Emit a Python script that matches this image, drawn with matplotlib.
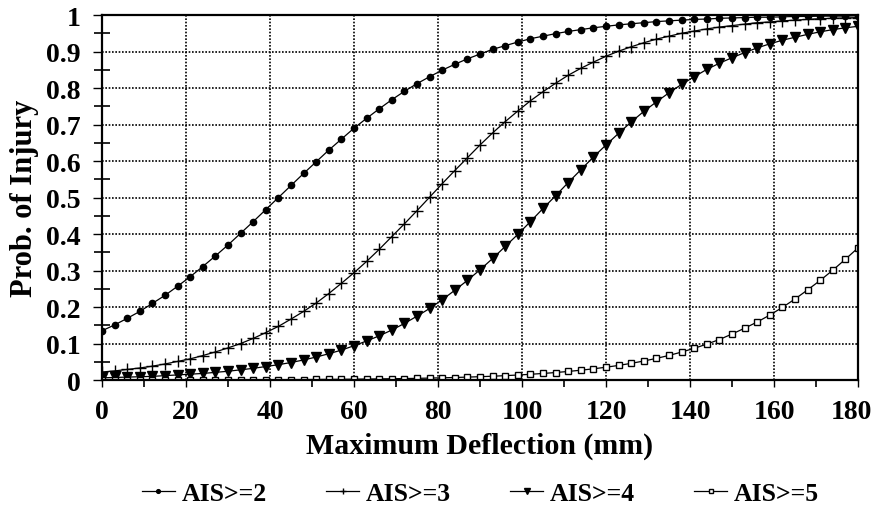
import numpy as np
import matplotlib.pyplot as plt
import matplotlib.transforms as mtransforms
from matplotlib.ticker import MultipleLocator, FuncFormatter

# ============================================================
# DATA (one value every 3 mm)
# ============================================================
deflection = list(range(0, 181, 3))

ais2 = [0.135, 0.151, 0.169, 0.188, 0.210, 0.232, 0.257, 0.283, 0.311, 0.340,
        0.370, 0.402, 0.434, 0.467, 0.500, 0.533, 0.566, 0.598, 0.630, 0.660,
        0.690, 0.717, 0.743, 0.768, 0.791, 0.812, 0.831, 0.849, 0.865, 0.880,
        0.893, 0.906, 0.916, 0.926, 0.935, 0.942, 0.949, 0.955, 0.960, 0.965,
        0.969, 0.973, 0.976, 0.979, 0.982, 0.984, 0.986, 0.988, 0.989, 0.991,
        0.992, 0.993, 0.994, 0.994, 0.995, 0.996, 0.996, 0.997, 0.997, 0.997,
        0.998]

ais3 = [0.022, 0.025, 0.029, 0.033, 0.038, 0.044, 0.051, 0.058, 0.067, 0.077,
        0.088, 0.100, 0.114, 0.130, 0.147, 0.167, 0.188, 0.211, 0.237, 0.265,
        0.294, 0.325, 0.358, 0.393, 0.428, 0.464, 0.501, 0.538, 0.574, 0.609,
        0.644, 0.677, 0.708, 0.737, 0.765, 0.790, 0.813, 0.835, 0.854, 0.871,
        0.887, 0.901, 0.913, 0.924, 0.934, 0.942, 0.950, 0.956, 0.962, 0.967,
        0.971, 0.975, 0.979, 0.981, 0.984, 0.986, 0.988, 0.990, 0.991, 0.992,
        0.993]

ais4 = [0.006, 0.007, 0.008, 0.009, 0.010, 0.012, 0.014, 0.016, 0.018, 0.021,
        0.024, 0.028, 0.032, 0.037, 0.042, 0.048, 0.055, 0.063, 0.072, 0.082,
        0.094, 0.107, 0.121, 0.137, 0.155, 0.175, 0.196, 0.220, 0.246, 0.273,
        0.302, 0.333, 0.366, 0.399, 0.434, 0.470, 0.505, 0.541, 0.576, 0.611,
        0.644, 0.676, 0.707, 0.736, 0.762, 0.787, 0.810, 0.831, 0.851, 0.868,
        0.883, 0.897, 0.910, 0.921, 0.931, 0.939, 0.947, 0.954, 0.960, 0.965,
        0.969]

ais5 = [0.0002, 0.0002, 0.0002, 0.0002, 0.0003, 0.0003, 0.0003, 0.0004, 0.0005, 0.0005,
        0.0006, 0.0007, 0.0008, 0.0009, 0.0010, 0.0012, 0.0013, 0.0015, 0.0018, 0.0020,
        0.0023, 0.0027, 0.0031, 0.0035, 0.0040, 0.0046, 0.0053, 0.0061, 0.0069, 0.0080,
        0.0091, 0.0104, 0.0120, 0.0137, 0.0157, 0.0180, 0.0205, 0.0235, 0.0269, 0.0307,
        0.0351, 0.0400, 0.0457, 0.0521, 0.0593, 0.0674, 0.0766, 0.0869, 0.0984, 0.111,
        0.126, 0.142, 0.159, 0.178, 0.199, 0.222, 0.247, 0.273, 0.301, 0.331,
        0.362]

series_labels = ["AIS>=2", "AIS>=3", "AIS>=4", "AIS>=5"]
x_ticks = [0, 20, 40, 60, 80, 100, 120, 140, 160, 180]

# ============================================================
# PLOT
# ============================================================
plt.rcParams['font.family'] = ['Liberation Serif', 'DejaVu Serif']
plt.rcParams['font.weight'] = 'bold'

fig = plt.figure(figsize=(8.75, 5.1), dpi=100)
ax = fig.add_axes([0.1166, 0.2529, 0.864, 0.7157])

styles = [
    dict(marker='o', ms=4.5, mfc='black', mec='black'),
    dict(marker='+', ms=8, mew=1.0, mec='black'),
    dict(marker='v', ms=6.5, mfc='black', mec='black'),
    dict(marker='s', ms=4.5, mfc='white', mec='black', mew=1.0),
]
for vals, lab, st in zip([ais2, ais3, ais4, ais5], series_labels, styles):
    ax.plot(deflection, vals, color='black', lw=0.9, label=lab, **st)

ax.set_xlim(0, 180)
ax.set_ylim(0, 1)
ax.set_xticks(x_ticks)
ax.xaxis.set_minor_locator(MultipleLocator(10))
ax.yaxis.set_major_locator(MultipleLocator(0.1))
ax.yaxis.set_minor_locator(MultipleLocator(0.05))
ax.yaxis.set_major_formatter(FuncFormatter(lambda v, _: f"{v:.1f}".rstrip('0').rstrip('.') if v else '0'))

ax.grid(True, which='major', color='black', lw=1.2, linestyle=(0, (1, 1)))
for sp in ax.spines.values():
    sp.set_linewidth(1.6)

ax.tick_params(axis='both', which='major', labelsize=20, width=1.0, length=6.5, pad=9)
ax.tick_params(axis='y', which='minor', direction='inout', length=11, width=1.2)
ax.tick_params(axis='x', which='minor', direction='out', length=5, width=1.2)
ax.tick_params(axis='x', which='major', length=5)

# the last x label sits on the figure edge: nudge it left so it stays whole
last = ax.get_xticklabels()[-1]
last.set_transform(last.get_transform() + mtransforms.ScaledTranslation(-5 / 72, 0, fig.dpi_scale_trans))

ax.set_xlabel("Maximum Deflection (mm)", fontsize=21.5, fontweight='bold', labelpad=5)
ax.set_ylabel("Prob. of Injury", fontsize=22, fontweight='bold', labelpad=5)

fig.legend(loc='center', bbox_to_anchor=(0.549, 0.031), ncol=4, frameon=False,
           fontsize=18.5, handlelength=1.3, handletextpad=0.25, columnspacing=2.3,
           markerscale=0.6)

fig.savefig('out.png', dpi=100)
